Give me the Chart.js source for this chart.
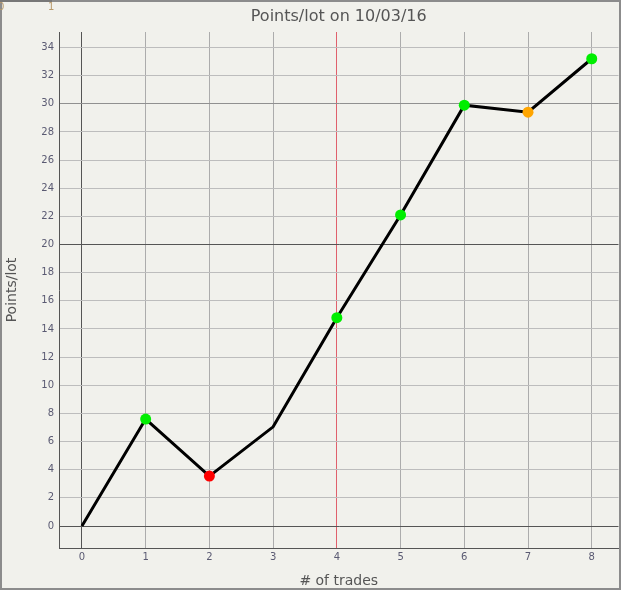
<!DOCTYPE html>
<html>
<head>
<meta charset="utf-8">
<script src="https://cdn.jsdelivr.net/npm/chart.js@4/dist/chart.umd.min.js"></script>
<style>
  html, body { margin: 0; padding: 0; background: #f1f1ec; }
  #wrap { position: relative; width: 621px; height: 590px; overflow: hidden; }
  canvas { position: absolute; left: 0; top: 0; }
  .rul { position: absolute; top: 1px; font: 10px "DejaVu Sans", sans-serif; color: #b89a6a; }
</style>
</head>
<body>
<div id="wrap">
  <canvas id="c" width="624" height="590"></canvas>
  <span class="rul" style="left:-2px">0</span>
  <span class="rul" style="left:48px">1</span>
</div>
<script>
const trades = [0, 1, 2, 3, 4, 5, 6, 7, 8];
const pointsPerLot = [0, 7.6, 3.55, 7.05, 14.8, 22.1, 29.9, 29.4, 33.2];
const pointColors = [null, '#00ee00', '#ff0000', null, '#00ee00', '#00ee00', '#00ee00', '#ffa500', '#00ee00'];
const xTicks = [0, 1, 2, 3, 4, 5, 6, 7, 8];
const yTicks = [0, 2, 4, 6, 8, 10, 12, 14, 16, 18, 20, 22, 24, 26, 28, 30, 32, 34];
const chartTitle = 'Points/lot on 10/03/16';
const xTitle = '# of trades';
const yTitle = 'Points/lot';

const FRAME_W = 621, FRAME_H = 590;

const bgPlugin = {
  id: 'bgframe',
  beforeDraw(chart) {
    const ctx = chart.ctx;
    ctx.save();
    ctx.fillStyle = '#f1f1ec';
    ctx.fillRect(0, 0, chart.width, chart.height);
    ctx.restore();
  },
  afterDraw(chart) {
    const ctx = chart.ctx;
    const a = chart.chartArea;
    ctx.save();
    ctx.strokeStyle = '#8c8c8c';
    ctx.lineWidth = 2;
    ctx.strokeRect(1, 1, FRAME_W - 2, FRAME_H - 2);
    ctx.strokeStyle = '#777';
    ctx.beginPath(); ctx.moveTo(0, 1); ctx.lineTo(52, 1); ctx.stroke();
    ctx.fillStyle = '#555';
    ctx.font = '16px "DejaVu Sans", sans-serif';
    ctx.textAlign = 'center';
    ctx.textBaseline = 'middle';
    ctx.fillText(chartTitle, (a.left + a.right) / 2, 17);
    ctx.restore();
  }
};

const gridX = (c) => {
  const v = c.tick ? c.tick.value : null;
  if (v === 0) return '#555555';
  if (v === 4) return '#e0606c';
  return '#acacac';
};
const gridY = (c) => {
  const v = c.tick ? c.tick.value : null;
  if (v === 0 || v === 20) return '#555555';
  if (v === 30) return '#909090';
  return '#bdbdbd';
};

new Chart(document.getElementById('c'), {
  type: 'line',
  data: {
    datasets: [{
      data: trades.map((t, i) => ({ x: t, y: pointsPerLot[i] })),
      borderColor: '#000',
      borderWidth: 3,
      tension: 0,
      pointRadius: pointColors.map(c => c ? 5.5 : 0),
      pointBackgroundColor: pointColors.map(c => c || '#000'),
      pointBorderWidth: 0,
      pointHoverRadius: 0
    }]
  },
  plugins: [bgPlugin],
  options: {
    responsive: false,
    animation: false,
    events: [],
    layout: { padding: { left: 2, right: 0, top: 32, bottom: 2 } },
    plugins: { legend: { display: false }, tooltip: { enabled: false }, title: { display: false } },
    scales: {
      x: {
        type: 'linear',
        min: -0.36,
        max: 8.42,
        afterBuildTicks: (s) => { s.ticks = xTicks.map(v => ({ value: v })); },
        afterFit: (s) => { s.height = 40; s.paddingRight = 0; s.paddingLeft = 0; },
        grid: { color: gridX, lineWidth: 1, drawTicks: false },
        border: { color: '#555', width: 1 },
        ticks: { color: '#5a5a72', font: { family: 'DejaVu Sans', size: 10 }, padding: 3, maxRotation: 0 },
        title: { display: true, text: xTitle, color: '#555', font: { family: 'DejaVu Sans', size: 14 }, padding: { top: 0, bottom: -2 } }
      },
      y: {
        type: 'linear',
        min: -1.56,
        max: 35.1,
        afterBuildTicks: (s) => { s.ticks = yTicks.map(v => ({ value: v })); },
        afterFit: (s) => { s.width = 57; },
        grid: { color: gridY, lineWidth: 1, drawTicks: false },
        border: { color: '#555', width: 1 },
        ticks: { color: '#5a5a72', font: { family: 'DejaVu Sans', size: 10 }, padding: 5 },
        title: { display: true, text: yTitle, color: '#555', font: { family: 'DejaVu Sans', size: 14 }, padding: { top: 2, bottom: 0 } }
      }
    }
  }
});
</script>
</body>
</html>
